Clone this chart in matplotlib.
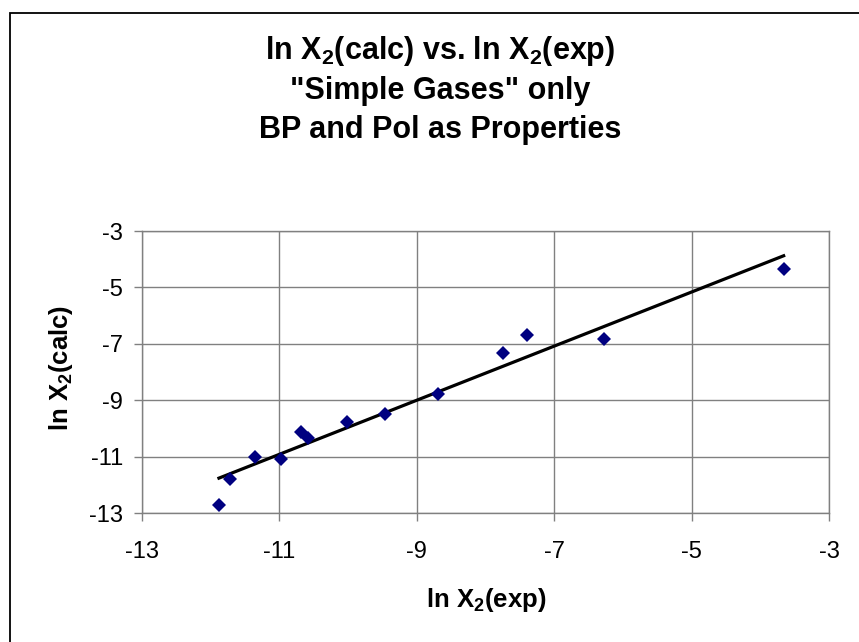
import numpy as np
import matplotlib
matplotlib.use("Agg")
import matplotlib.pyplot as plt
from matplotlib.patches import Rectangle

plt.rcParams['font.family'] = ['Liberation Sans', 'DejaVu Sans']
plt.rcParams['mathtext.fontset'] = 'custom'
plt.rcParams['mathtext.rm'] = 'Liberation Sans'
plt.rcParams['mathtext.bf'] = 'Liberation Sans:bold'
plt.rcParams['axes.unicode_minus'] = False

# ln X2 experimental vs calculated, simple gases
x_exp = [-11.88, -11.72, -11.35, -10.97, -10.68, -10.58, -10.01,
         -9.46, -8.69, -7.74, -7.39, -6.28, -3.66]
y_calc = [-12.72, -11.79, -11.00, -11.09, -10.14, -10.35, -9.76,
          -9.50, -8.78, -7.31, -6.68, -6.82, -4.34]
ticks = [-13, -11, -9, -7, -5, -3]
title_lines = ['ln X$\\mathregular{_2}$(calc) vs. ln X$\\mathregular{_2}$(exp)',
               '"Simple Gases" only',
               'BP and Pol as Properties']

x = np.array(x_exp)
y = np.array(y_calc)

# linear trendline over the data range
slope, icept = np.polyfit(x, y, 1)
xt = np.array([x.min(), x.max()])
yt = slope * xt + icept

W, H = 859, 642
fig = plt.figure(figsize=(W / 100, H / 100), dpi=100)
fig.patches.append(Rectangle((10 / W, -0.1), 1.0, 1.1 - 13 / H,
                             transform=fig.transFigure, fill=False,
                             edgecolor='black', linewidth=1.3))

ax = fig.add_axes([142 / W, 1 - 513 / H, 687 / W, 282 / H])
ax.plot(xt, yt, color='black', linewidth=2.3, zorder=3)
ax.plot(x, y, linestyle='none', marker='D', markersize=6.8,
        color='#000080', markeredgewidth=0, zorder=4)

ax.set_xlim(-13, -3)
ax.set_ylim(-13, -3)
ax.set_xticks(ticks)
ax.set_yticks(ticks)
ax.grid(True, color='#808080', linewidth=1)
ax.set_axisbelow(True)
for s in ax.spines.values():
    s.set_color('#808080')
    s.set_linewidth(1)
ax.tick_params(direction='out', length=5.8, width=1, color='#808080',
               labelsize=17)
ax.tick_params(axis='x', pad=14.5)
ax.tick_params(axis='y', pad=8)

# axis titles
fig.text(486 / W, 1 - 607 / H, r'ln X$\mathregular{_2}$(exp)',
         ha='center', va='baseline', fontsize=18.5, fontweight='bold')
fig.text(68 / W, 1 - 368 / H, r'ln X$\mathregular{_2}$(calc)',
         ha='center', va='baseline', rotation=90, rotation_mode='anchor',
         fontsize=18.5, fontweight='bold')

# chart title, one line at a time
for i, line in enumerate(title_lines):
    fig.text(440 / W, 1 - (59 + 39.5 * i) / H, line, ha='center',
             va='baseline', fontsize=22, fontweight='bold')

fig.savefig('out.png', dpi=100)
